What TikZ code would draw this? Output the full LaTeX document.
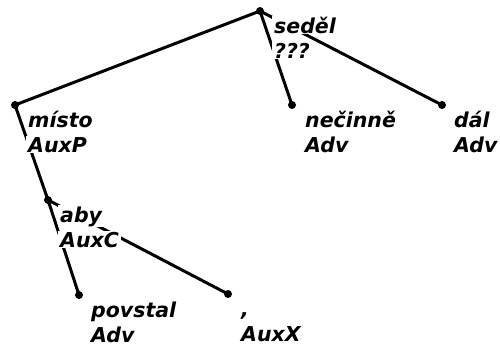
\documentclass[tikz,border=0pt]{standalone}
\usepackage{fontspec}
\setmainfont{DejaVu Sans}
\begin{document}
\begin{tikzpicture}[x=1pt,y=-1pt,
  dot/.style={circle,fill=black,inner sep=0pt,minimum size=8pt},
  edge/.style={line width=3pt},
  lab/.style={anchor=base west,fill=white,inner xsep=2pt,inner ysep=1pt,
    font=\fontsize{20.5}{21}\selectfont\bfseries\itshape}]
\useasboundingbox (0,0) rectangle (500,349);
\fill[white] (0,0) rectangle (500,349);
% tree nodes
\node[dot] (sedel) at (260,11) {};
\node[dot] (misto) at (15,105) {};
\node[dot] (necinne) at (292,105) {};
\node[dot] (dal) at (442,105) {};
\node[dot] (aby) at (48,200) {};
\node[dot] (povstal) at (79,295) {};
\node[dot] (comma) at (228,294) {};
% edges
\draw[edge] (sedel.center) -- (misto.center);
\draw[edge] (sedel.center) -- (necinne.center);
\draw[edge] (sedel.center) -- (dal.center);
\draw[edge] (misto.center) -- (aby.center);
\draw[edge] (aby.center) -- (povstal.center);
\draw[edge] (aby.center) -- (comma.center);
% labels
\node[lab] (sedelA) at ([xshift=12pt,yshift=-22pt]sedel.center) {seděl};
\node[lab] (sedelB) at ([xshift=12pt,yshift=-47pt]sedel.center) {???};
\node[lab] (mistoA) at ([xshift=11pt,yshift=-22pt]misto.center) {místo};
\node[lab] (mistoB) at ([xshift=11pt,yshift=-47pt]misto.center) {AuxP};
\node[lab] (necinneA) at ([xshift=11pt,yshift=-22pt]necinne.center) {nečinně};
\node[lab] (necinneB) at ([xshift=11pt,yshift=-47pt]necinne.center) {Adv};
\node[lab] (dalA) at ([xshift=10pt,yshift=-22pt]dal.center) {dál};
\node[lab] (dalB) at ([xshift=10pt,yshift=-47pt]dal.center) {Adv};
\node[lab] (abyA) at ([xshift=10pt,yshift=-22pt]aby.center) {aby};
\node[lab] (abyB) at ([xshift=10pt,yshift=-47pt]aby.center) {AuxC};
\node[lab] (povstalA) at ([xshift=10pt,yshift=-22pt]povstal.center) {povstal};
\node[lab] (povstalB) at ([xshift=10pt,yshift=-47pt]povstal.center) {Adv};
\node[lab] (commaA) at ([xshift=11pt,yshift=-22pt]comma.center) {,};
\node[lab] (commaB) at ([xshift=11pt,yshift=-47pt]comma.center) {AuxX};
\end{tikzpicture}
\end{document}
